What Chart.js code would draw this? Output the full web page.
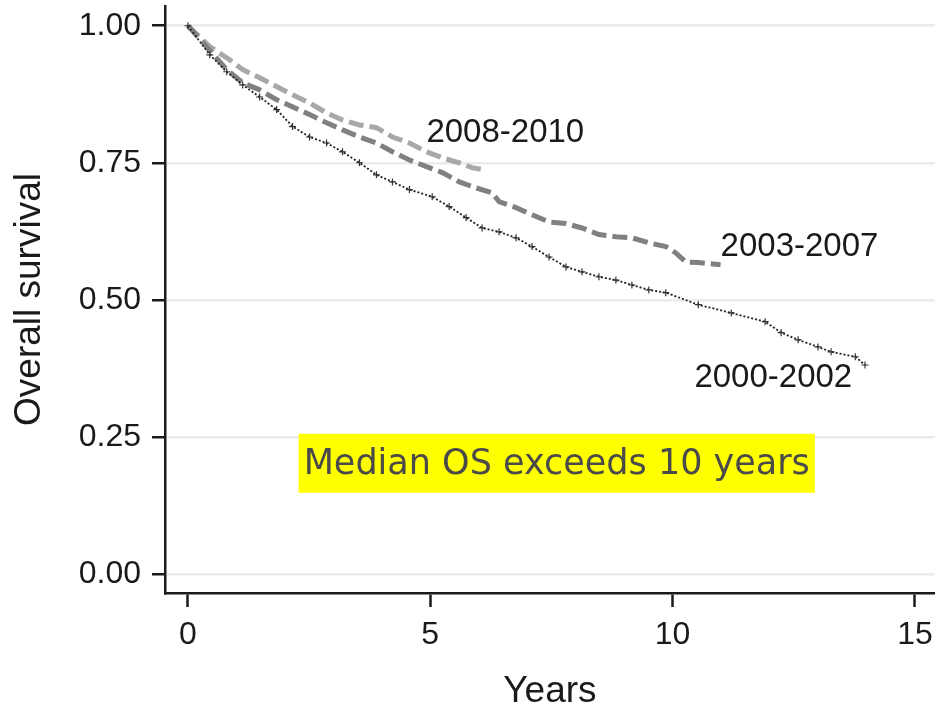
<!DOCTYPE html>
<html>
<head>
<meta charset="utf-8">
<script src="https://cdn.jsdelivr.net/npm/chart.js@4"></script>
<style>
  html, body { margin: 0; padding: 0; background: #fff; }
  #wrap { width: 940px; height: 711px; }
</style>
</head>
<body>
<div id="wrap"><canvas id="kmChart"></canvas></div>
<script>
// Kaplan-Meier curves (years, survival)
const years0810 = [0, 0.45, 0.86, 1.13, 1.48, 1.83, 2.16, 2.51, 2.86, 3.19, 3.54, 3.89, 4.22, 4.57, 4.92, 5.25, 5.60, 5.86, 6.11];
const surv0810  = [1.0, 0.962, 0.938, 0.920, 0.905, 0.889, 0.874, 0.859, 0.841, 0.828, 0.819, 0.814, 0.797, 0.786, 0.770, 0.759, 0.750, 0.741, 0.737];

const years0307 = [0, 0.45, 0.80, 1.13, 1.48, 1.83, 2.16, 2.51, 2.86, 3.19, 3.54, 3.89, 4.22, 4.57, 4.92, 5.25, 5.60, 5.95, 6.28, 6.42, 6.77, 7.10, 7.45, 7.80, 8.13, 8.48, 8.83, 9.16, 9.51, 9.86, 10.06, 10.27, 10.53, 10.99];
const surv0307  = [1.0, 0.955, 0.920, 0.896, 0.883, 0.865, 0.852, 0.838, 0.823, 0.810, 0.797, 0.786, 0.770, 0.755, 0.743, 0.732, 0.715, 0.704, 0.695, 0.679, 0.668, 0.655, 0.642, 0.639, 0.631, 0.619, 0.615, 0.613, 0.604, 0.597, 0.586, 0.569, 0.568, 0.564];

const years0002 = [0, 0.45, 0.80, 1.13, 1.48, 1.83, 2.16, 2.51, 2.86, 3.19, 3.54, 3.89, 4.22, 4.57, 5.04, 5.39, 5.74, 6.07, 6.42, 6.77, 7.10, 7.45, 7.80, 8.13, 8.48, 8.83, 9.16, 9.51, 9.86, 10.53, 11.21, 11.91, 12.24, 12.59, 13.00, 13.27, 13.77, 13.97];
const surv0002  = [1.0, 0.947, 0.916, 0.892, 0.870, 0.847, 0.816, 0.797, 0.786, 0.770, 0.750, 0.728, 0.715, 0.701, 0.688, 0.670, 0.650, 0.631, 0.624, 0.613, 0.597, 0.578, 0.560, 0.551, 0.542, 0.536, 0.527, 0.518, 0.513, 0.491, 0.476, 0.460, 0.440, 0.427, 0.414, 0.405, 0.396, 0.381];

const xTicks = [0, 5, 10, 15];
const yTicks = [0, 0.25, 0.5, 0.75, 1];

const toPoints = (xs, ys) => xs.map((x, i) => ({ x: x, y: ys[i] }));

// curve labels and the highlighted note, anchored in data units
const notes = [
    { text: '2008-2010', x: 4.92, y: 0.805 },
    { text: '2003-2007', x: 10.99, y: 0.597 },
    { text: '2000-2002', x: 10.45, y: 0.358 }
];
const boxNote = { text: 'Median OS exceeds 10 years', x: 7.61, y: 0.2026 };

const notePlugin = {
    id: 'notes',
    afterDatasetsDraw(chart) {
        const { ctx, scales: { x, y } } = chart;
        ctx.save();
        ctx.font = '33px "Liberation Sans", Arial, sans-serif';
        ctx.fillStyle = '#1a1a1a';
        ctx.textAlign = 'left';
        ctx.textBaseline = 'middle';
        notes.forEach(n => ctx.fillText(n.text, x.getPixelForValue(n.x), y.getPixelForValue(n.y)));

        ctx.font = '35px "DejaVu Sans", sans-serif';
        const w = ctx.measureText(boxNote.text).width;
        const cx = x.getPixelForValue(boxNote.x);
        const cy = y.getPixelForValue(boxNote.y);
        ctx.fillStyle = '#ffff00';
        ctx.fillRect(cx - w / 2 - 5, cy - 29, w + 10, 59);
        ctx.fillStyle = '#4a4a4a';
        ctx.textAlign = 'center';
        ctx.fillText(boxNote.text, cx, cy + 2);
        ctx.restore();
    }
};

const ctx = document.getElementById('kmChart').getContext('2d');

new Chart(ctx, {
    type: 'line',
    data: {
        datasets: [
            {
                label: '2000-2002',
                data: toPoints(years0002, surv0002),
                borderColor: '#222222',
                borderWidth: 1.8,
                borderDash: [2, 2],
                pointStyle: 'cross',
                pointRadius: 3.5,
                pointBorderWidth: 1.2,
                pointBorderColor: '#333333',
                tension: 0
            },
            {
                label: '2003-2007',
                data: toPoints(years0307, surv0307),
                borderColor: '#808080',
                borderWidth: 5,
                borderDash: [15, 6],
                pointRadius: 0,
                tension: 0
            },
            {
                label: '2008-2010',
                data: toPoints(years0810, surv0810),
                borderColor: '#a8a8a8',
                borderWidth: 5,
                borderDash: [15, 6],
                pointRadius: 0,
                tension: 0
            }
        ]
    },
    options: {
        responsive: true,
        maintainAspectRatio: false,
        animation: false,
        layout: { padding: { top: 6, right: 3, left: 0, bottom: 0 } },
        scales: {
            x: {
                type: 'linear',
                min: -0.473,
                max: 15.41,
                afterBuildTicks: s => { s.ticks = xTicks.map(v => ({ value: v })); },
                afterFit: s => { s.height = 118; s.paddingLeft = 0; s.paddingRight = 0; },
                border: { color: '#1a1a1a', width: 2.5 },
                grid: {
                    drawOnChartArea: false,
                    tickLength: 14,
                    tickColor: '#1a1a1a',
                    tickWidth: 2.5
                },
                ticks: {
                    color: '#1a1a1a',
                    padding: 9,
                    maxRotation: 0,
                    font: { family: '"Liberation Sans", Arial, sans-serif', size: 32 },
                    callback: v => String(v)
                },
                title: {
                    display: true,
                    text: 'Years',
                    color: '#1a1a1a',
                    padding: { top: 0, bottom: 1 },
                    font: { family: '"Liberation Sans", Arial, sans-serif', size: 37, lineHeight: 1 }
                }
            },
            y: {
                type: 'linear',
                min: -0.035,
                max: 1.036,
                afterBuildTicks: s => { s.ticks = yTicks.map(v => ({ value: v })); },
                afterFit: s => { s.width = 165; s.paddingTop = 0; s.paddingBottom = 0; },
                border: { color: '#1a1a1a', width: 2.5 },
                grid: {
                    color: '#ebebeb',
                    lineWidth: 2.5,
                    tickLength: 13,
                    tickColor: '#1a1a1a',
                    tickWidth: 2.5
                },
                ticks: {
                    color: '#1a1a1a',
                    padding: 11,
                    font: { family: '"Liberation Sans", Arial, sans-serif', size: 32 },
                    callback: v => Number(v).toFixed(2)
                },
                title: {
                    display: true,
                    text: 'Overall survival',
                    color: '#1a1a1a',
                    padding: { top: 8, bottom: 0 },
                    font: { family: '"Liberation Sans", Arial, sans-serif', size: 37 }
                }
            }
        },
        plugins: {
            legend: { display: false },
            tooltip: { enabled: false }
        }
    },
    plugins: [notePlugin]
});
</script>
</body>
</html>
